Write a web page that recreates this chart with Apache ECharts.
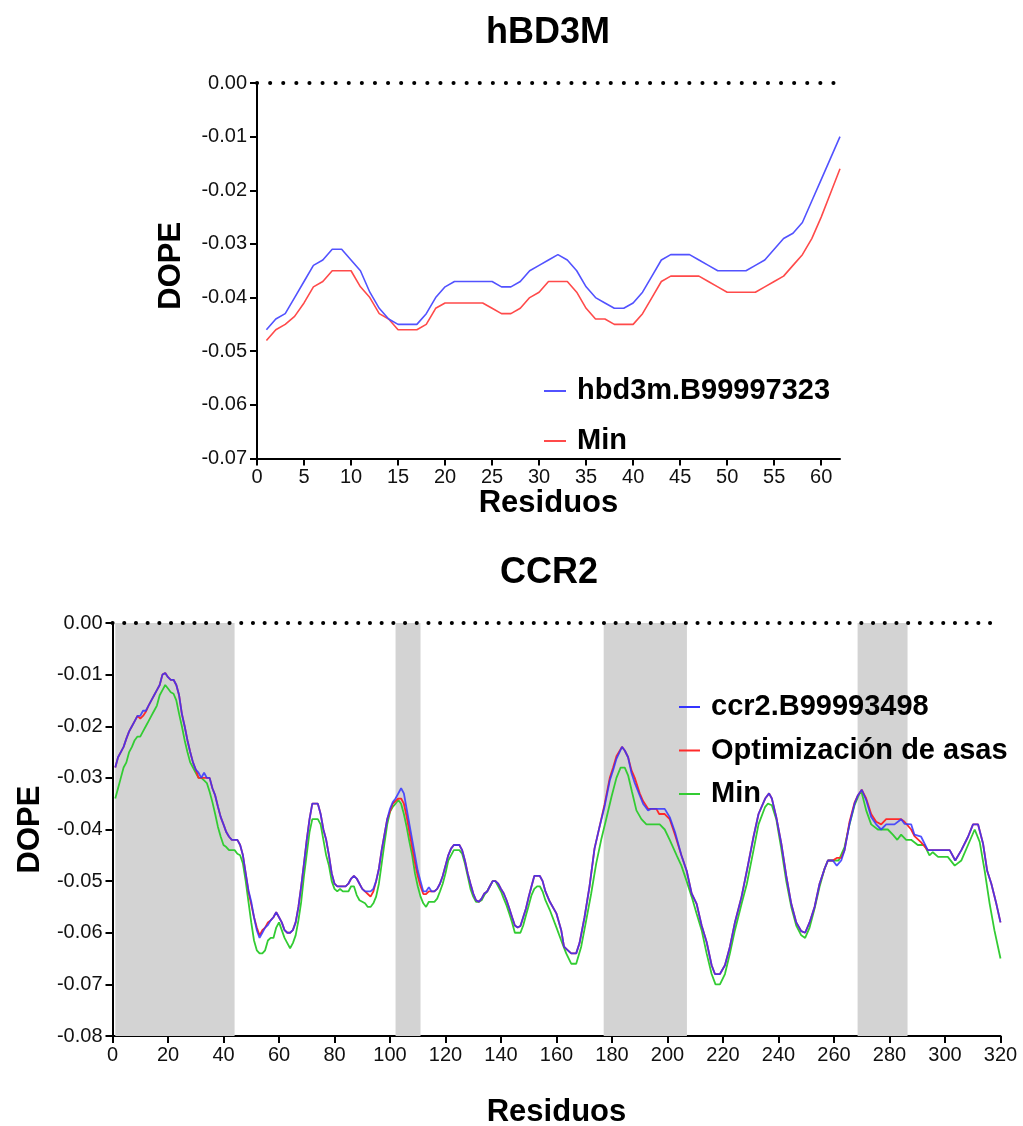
<!DOCTYPE html>
<html><head><meta charset="utf-8">
<script src="https://cdn.jsdelivr.net/npm/echarts@6/dist/echarts.min.js"></script>
<style>html,body{margin:0;padding:0;background:#fff}#c{width:1023px;height:1126px}</style>
</head><body><div id="c"></div>
<script>
// ---------- hBD3M ----------
const hbdResidues = [1,2,3,4,5,6,7,8,9,10,11,12,13,14,15,16,17,18,19,20,21,22,23,24,25,26,27,28,29,30,31,32,33,34,35,36,37,38,39,40,41,42,43,44,45,46,47,48,49,50,51,52,53,54,55,56,57,58,59,60,61,62];
const hbdModel = [-0.046,-0.044,-0.043,-0.040,-0.037,-0.034,-0.033,-0.031,-0.031,-0.033,-0.035,-0.039,-0.042,-0.044,-0.045,-0.045,-0.045,-0.043,-0.040,-0.038,-0.037,-0.037,-0.037,-0.037,-0.037,-0.038,-0.038,-0.037,-0.035,-0.034,-0.033,-0.032,-0.033,-0.035,-0.038,-0.040,-0.041,-0.042,-0.042,-0.041,-0.039,-0.036,-0.033,-0.032,-0.032,-0.032,-0.033,-0.034,-0.035,-0.035,-0.035,-0.035,-0.034,-0.033,-0.031,-0.029,-0.028,-0.026,-0.022,-0.018,-0.014,-0.010];
const hbdMin = [-0.048,-0.046,-0.045,-0.0435,-0.041,-0.038,-0.037,-0.035,-0.035,-0.035,-0.038,-0.040,-0.043,-0.044,-0.046,-0.046,-0.046,-0.045,-0.042,-0.041,-0.041,-0.041,-0.041,-0.041,-0.042,-0.043,-0.043,-0.042,-0.040,-0.039,-0.037,-0.037,-0.037,-0.039,-0.042,-0.044,-0.044,-0.045,-0.045,-0.045,-0.043,-0.040,-0.037,-0.036,-0.036,-0.036,-0.036,-0.037,-0.038,-0.039,-0.039,-0.039,-0.039,-0.038,-0.037,-0.036,-0.034,-0.032,-0.029,-0.025,-0.0205,-0.016];
const hbdXTicks = [0,5,10,15,20,25,30,35,40,45,50,55,60];
const hbdYTicks = [-0.07,-0.06,-0.05,-0.04,-0.03,-0.02,-0.01,0];
const hbdLabels = ['hbd3m.B99997323','Min'];

// ---------- CCR2 ----------
const ccr2Model = [[1,-0.028],[2,-0.026],[3,-0.025],[4,-0.024],[5,-0.0224],[6,-0.021],[7,-0.020],[8,-0.019],[9,-0.018],[10,-0.018],[11,-0.017],[12,-0.017],[13,-0.016],[14,-0.015],[15,-0.014],[16,-0.013],[17,-0.012],[18,-0.010],[19,-0.0097],[20,-0.0105],[21,-0.011],[22,-0.011],[23,-0.012],[24,-0.014],[25,-0.0176],[26,-0.020],[27,-0.0227],[28,-0.025],[29,-0.027],[30,-0.0284],[31,-0.029],[32,-0.030],[33,-0.029],[34,-0.030],[35,-0.030],[36,-0.032],[37,-0.0334],[38,-0.0356],[39,-0.0376],[40,-0.039],[41,-0.0405],[42,-0.0414],[43,-0.042],[44,-0.042],[45,-0.042],[46,-0.043],[47,-0.045],[48,-0.0485],[49,-0.0518],[50,-0.054],[51,-0.057],[52,-0.0595],[53,-0.061],[54,-0.060],[55,-0.059],[56,-0.0585],[57,-0.0576],[58,-0.057],[59,-0.056],[60,-0.057],[61,-0.058],[62,-0.0595],[63,-0.060],[64,-0.060],[65,-0.0595],[66,-0.058],[67,-0.055],[68,-0.051],[69,-0.0466],[70,-0.042],[71,-0.038],[72,-0.035],[73,-0.035],[74,-0.035],[75,-0.037],[76,-0.040],[77,-0.042],[78,-0.045],[79,-0.0485],[80,-0.0505],[81,-0.051],[82,-0.051],[83,-0.051],[84,-0.051],[85,-0.0505],[86,-0.0495],[87,-0.049],[88,-0.0495],[89,-0.0505],[90,-0.0515],[91,-0.052],[92,-0.052],[93,-0.052],[94,-0.0515],[95,-0.050],[96,-0.0476],[97,-0.044],[98,-0.041],[99,-0.038],[100,-0.036],[101,-0.0347],[102,-0.034],[103,-0.033],[104,-0.032],[105,-0.033],[106,-0.036],[107,-0.039],[108,-0.042],[109,-0.045],[110,-0.048],[111,-0.050],[112,-0.052],[113,-0.052],[114,-0.0512],[115,-0.052],[116,-0.052],[117,-0.0515],[118,-0.0505],[119,-0.049],[120,-0.047],[121,-0.045],[122,-0.0437],[123,-0.043],[124,-0.043],[125,-0.043],[126,-0.044],[127,-0.046],[128,-0.0485],[129,-0.0505],[130,-0.0524],[131,-0.0537],[132,-0.054],[133,-0.0534],[134,-0.0524],[135,-0.052],[136,-0.051],[137,-0.050],[138,-0.050],[139,-0.0505],[140,-0.0515],[141,-0.0524],[142,-0.0537],[143,-0.0553],[144,-0.057],[145,-0.0586],[146,-0.059],[147,-0.0587],[148,-0.057],[149,-0.0553],[150,-0.053],[151,-0.051],[152,-0.049],[153,-0.049],[154,-0.049],[155,-0.050],[156,-0.052],[157.6,-0.054],[160,-0.0563],[161.7,-0.0595],[162.7,-0.0627],[164.1,-0.0634],[165.3,-0.064],[167.1,-0.064],[168.3,-0.062],[170.1,-0.057],[171.9,-0.051],[173.7,-0.0437],[175.5,-0.0395],[177.3,-0.0356],[179.2,-0.0305],[180.4,-0.0285],[181.6,-0.0263],[183.6,-0.024],[184.6,-0.0247],[185.8,-0.026],[187,-0.029],[188.2,-0.031],[190,-0.0334],[191.2,-0.035],[193,-0.0363],[194,-0.036],[199,-0.036],[200.8,-0.0376],[202.7,-0.0405],[205,-0.045],[206.9,-0.048],[208.7,-0.0524],[210.5,-0.0544],[212.3,-0.0586],[214.1,-0.0618],[215.9,-0.0663],[217.1,-0.068],[218.9,-0.068],[220.7,-0.0663],[222.5,-0.0627],[224.3,-0.058],[226.7,-0.053],[228.6,-0.048],[231,-0.0414],[232.8,-0.037],[235.2,-0.034],[236.6,-0.033],[237.6,-0.034],[239.2,-0.0376],[241,-0.0427],[242.8,-0.049],[244.6,-0.0544],[246.4,-0.058],[248.2,-0.0597],[249.6,-0.060],[251.2,-0.058],[253,-0.055],[254.8,-0.0505],[256.6,-0.0476],[257.8,-0.046],[259.6,-0.046],[261,-0.047],[262.6,-0.046],[263.8,-0.044],[265.6,-0.0389],[267.4,-0.035],[268.6,-0.0334],[270,-0.0323],[271.6,-0.0343],[273.4,-0.0376],[275.2,-0.039],[277,-0.040],[278.8,-0.039],[281.8,-0.039],[284.2,-0.038],[285.4,-0.0389],[287.8,-0.039],[289,-0.041],[291.4,-0.0414],[293.8,-0.044],[301.7,-0.044],[303.7,-0.046],[305.9,-0.044],[308.3,-0.0414],[310.1,-0.039],[311.9,-0.039],[313.7,-0.0427],[315.2,-0.048],[316.7,-0.0505],[318.5,-0.0544],[320,-0.058]];
const ccr2Loop = [[1,-0.028],[2,-0.026],[3,-0.025],[4,-0.024],[5,-0.0224],[6,-0.021],[7,-0.020],[8,-0.019],[9,-0.018],[10,-0.0185],[11,-0.018],[12,-0.0172],[13,-0.016],[14,-0.015],[15,-0.014],[16,-0.013],[17,-0.012],[18,-0.010],[19,-0.0097],[20,-0.0105],[21,-0.011],[22,-0.011],[23,-0.012],[24,-0.014],[25,-0.0176],[26,-0.020],[27,-0.0227],[28,-0.025],[29,-0.027],[30,-0.0284],[31,-0.030],[32,-0.030],[33,-0.030],[34,-0.030],[35,-0.030],[36,-0.032],[37,-0.0334],[38,-0.0356],[39,-0.0376],[40,-0.039],[41,-0.0405],[42,-0.0414],[43,-0.042],[44,-0.042],[45,-0.042],[46,-0.043],[47,-0.045],[48,-0.0485],[49,-0.052],[50,-0.0545],[51,-0.057],[52,-0.059],[53,-0.0605],[54,-0.0595],[55,-0.059],[56,-0.058],[57,-0.0576],[58,-0.057],[59,-0.056],[60,-0.057],[61,-0.058],[62,-0.0595],[63,-0.060],[64,-0.060],[65,-0.0595],[66,-0.058],[67,-0.055],[68,-0.051],[69,-0.0466],[70,-0.042],[71,-0.038],[72,-0.035],[73,-0.035],[74,-0.035],[75,-0.037],[76,-0.040],[77,-0.042],[78,-0.045],[79,-0.0485],[80,-0.0505],[81,-0.051],[82,-0.051],[83,-0.051],[84,-0.051],[85,-0.0505],[86,-0.0495],[87,-0.049],[88,-0.0495],[89,-0.0505],[90,-0.0515],[91,-0.052],[92,-0.0525],[93,-0.053],[94,-0.052],[95,-0.050],[96,-0.0476],[97,-0.044],[98,-0.041],[99,-0.038],[100,-0.0365],[101,-0.035],[102,-0.0345],[103,-0.034],[104,-0.034],[105,-0.035],[106,-0.0375],[107,-0.0405],[108,-0.0435],[109,-0.0465],[110,-0.049],[111,-0.051],[112,-0.0525],[113,-0.0525],[114,-0.052],[115,-0.052],[116,-0.052],[117,-0.0515],[118,-0.0505],[119,-0.049],[120,-0.047],[121,-0.045],[122,-0.0437],[123,-0.043],[124,-0.043],[125,-0.043],[126,-0.044],[127,-0.046],[128,-0.0485],[129,-0.0505],[130,-0.0524],[131,-0.0537],[132,-0.054],[133,-0.0534],[134,-0.0524],[135,-0.052],[136,-0.051],[137,-0.050],[138,-0.050],[139,-0.0505],[140,-0.0515],[141,-0.0524],[142,-0.0537],[143,-0.0553],[144,-0.057],[145,-0.0586],[146,-0.059],[147,-0.0587],[148,-0.057],[149,-0.0553],[150,-0.053],[151,-0.051],[152,-0.049],[153,-0.049],[154,-0.049],[155,-0.050],[156,-0.052],[157.6,-0.054],[160,-0.0563],[161.7,-0.0595],[162.7,-0.0627],[164.1,-0.0634],[165.3,-0.064],[167.1,-0.064],[168.3,-0.062],[170.1,-0.057],[171.9,-0.051],[173.7,-0.0437],[175.5,-0.0395],[177.3,-0.0352],[179.2,-0.030],[180.4,-0.028],[181.6,-0.0258],[183.6,-0.024],[184.6,-0.0247],[185.8,-0.026],[187,-0.0285],[188.2,-0.030],[190,-0.033],[191.2,-0.0345],[193,-0.036],[196,-0.036],[197,-0.037],[199,-0.037],[200.8,-0.038],[202.7,-0.041],[205,-0.045],[206.9,-0.048],[208.7,-0.0524],[210.5,-0.0544],[212.3,-0.0586],[214.1,-0.0618],[215.9,-0.0663],[217.1,-0.068],[218.9,-0.068],[220.7,-0.0663],[222.5,-0.0627],[224.3,-0.058],[226.7,-0.053],[228.6,-0.048],[231,-0.0414],[232.8,-0.037],[235.2,-0.034],[236.6,-0.033],[237.6,-0.034],[239.2,-0.0376],[241,-0.0427],[242.8,-0.049],[244.6,-0.0544],[246.4,-0.058],[248.2,-0.0597],[249.6,-0.060],[251.2,-0.058],[253,-0.055],[254.8,-0.0505],[256.6,-0.0476],[257.8,-0.046],[259.6,-0.046],[261,-0.0455],[262.6,-0.0455],[263.8,-0.044],[265.6,-0.0385],[267.4,-0.0348],[268.6,-0.0334],[270,-0.0323],[271.6,-0.034],[273.4,-0.037],[275.2,-0.0385],[277,-0.039],[278.8,-0.038],[281.8,-0.038],[284.2,-0.038],[285.4,-0.0385],[287.8,-0.040],[289,-0.0413],[291.4,-0.0425],[293.8,-0.044],[301.7,-0.044],[303.7,-0.046],[305.9,-0.044],[308.3,-0.0414],[310.1,-0.039],[311.9,-0.039],[313.7,-0.0427],[315.2,-0.048],[316.7,-0.0505],[318.5,-0.0544],[320,-0.058]];
const ccr2Min = [[1,-0.034],[2,-0.032],[3,-0.030],[4,-0.028],[5,-0.027],[6,-0.025],[7,-0.024],[8,-0.0227],[9,-0.022],[10,-0.022],[11,-0.021],[12,-0.020],[13,-0.019],[14,-0.018],[15,-0.017],[16,-0.016],[17,-0.014],[18,-0.013],[19,-0.012],[20,-0.0127],[21,-0.0134],[22,-0.0137],[23,-0.015],[24,-0.0176],[25,-0.020],[26,-0.0227],[27,-0.025],[28,-0.027],[29,-0.028],[30,-0.029],[31,-0.030],[32,-0.030],[33,-0.0305],[34,-0.031],[35,-0.0327],[36,-0.0347],[37,-0.037],[38,-0.0395],[39,-0.0414],[40,-0.043],[41,-0.0434],[42,-0.044],[43,-0.044],[44,-0.044],[45,-0.0447],[46,-0.045],[47,-0.0466],[48,-0.050],[49,-0.054],[50,-0.058],[51,-0.0615],[52,-0.0634],[53,-0.064],[54,-0.064],[55,-0.0634],[56,-0.0615],[57,-0.061],[58,-0.061],[59,-0.059],[60,-0.058],[61,-0.0595],[62,-0.061],[63,-0.062],[64,-0.063],[65,-0.062],[66,-0.0605],[67,-0.0576],[68,-0.054],[69,-0.049],[70,-0.0447],[71,-0.0405],[72,-0.038],[73,-0.038],[74,-0.038],[75,-0.039],[76,-0.042],[77,-0.045],[78,-0.047],[79,-0.050],[80,-0.0515],[81,-0.052],[82,-0.0515],[83,-0.052],[84,-0.052],[85,-0.052],[86,-0.051],[87,-0.051],[88,-0.0527],[89,-0.0537],[90,-0.054],[91,-0.0543],[92,-0.055],[93,-0.055],[94,-0.0543],[95,-0.053],[96,-0.0505],[97,-0.0466],[98,-0.0427],[99,-0.039],[100,-0.0366],[101,-0.0356],[102,-0.035],[103,-0.0343],[104,-0.035],[105,-0.037],[106,-0.0395],[107,-0.0424],[108,-0.045],[109,-0.0485],[110,-0.051],[111,-0.053],[112,-0.0543],[113,-0.055],[114,-0.054],[115,-0.054],[116,-0.054],[117,-0.0534],[118,-0.052],[119,-0.0505],[120,-0.0485],[121,-0.046],[122,-0.045],[123,-0.044],[124,-0.044],[125,-0.044],[126,-0.0447],[127,-0.0466],[128,-0.049],[129,-0.0515],[130,-0.053],[131,-0.054],[132,-0.054],[133,-0.0537],[134,-0.0527],[135,-0.052],[136,-0.051],[137,-0.050],[138,-0.050],[139,-0.051],[140,-0.052],[141,-0.0534],[142,-0.0547],[143,-0.0563],[144,-0.058],[145,-0.060],[146,-0.060],[147,-0.060],[148,-0.0586],[149,-0.0566],[150,-0.0547],[151,-0.0527],[152,-0.0515],[153,-0.051],[154,-0.051],[155,-0.052],[156,-0.0537],[157.6,-0.0556],[160,-0.059],[161.7,-0.0615],[163.5,-0.064],[165.3,-0.066],[167.1,-0.066],[168.9,-0.0627],[170.7,-0.0576],[172.5,-0.0524],[174.3,-0.0466],[176.1,-0.042],[177.9,-0.038],[179.8,-0.0337],[181.6,-0.030],[183.1,-0.028],[184.6,-0.028],[185.8,-0.0295],[187.2,-0.0327],[188.8,-0.0363],[190.6,-0.038],[192.4,-0.039],[197.2,-0.039],[199,-0.040],[200.8,-0.042],[203.3,-0.045],[205,-0.047],[206.9,-0.050],[208.7,-0.053],[210.5,-0.0563],[212.3,-0.0595],[214.1,-0.064],[215.9,-0.068],[217.3,-0.070],[218.9,-0.070],[220.7,-0.068],[222.5,-0.064],[224.3,-0.0595],[226.7,-0.0544],[228.6,-0.0505],[231,-0.044],[232.8,-0.039],[235.2,-0.0356],[236.2,-0.035],[237.6,-0.0353],[239.2,-0.038],[241,-0.0437],[242.8,-0.050],[244.6,-0.055],[246.4,-0.0586],[248.2,-0.0605],[249.6,-0.061],[251.2,-0.059],[253,-0.0553],[254.8,-0.0511],[256.6,-0.0476],[257.8,-0.046],[261.7,-0.046],[263.8,-0.0434],[265.6,-0.039],[267.4,-0.0353],[269.2,-0.033],[270,-0.0329],[271.6,-0.0363],[273.4,-0.039],[275.8,-0.040],[279.4,-0.040],[281.2,-0.041],[282.8,-0.042],[284.2,-0.041],[286,-0.042],[287.8,-0.042],[290.2,-0.043],[292.6,-0.043],[294.4,-0.045],[295.6,-0.0444],[297.5,-0.0453],[301,-0.0453],[303.5,-0.047],[305.9,-0.046],[308.3,-0.043],[310.7,-0.040],[312.5,-0.0424],[314.3,-0.048],[316.1,-0.0544],[317.8,-0.0595],[320,-0.065]];
const ccr2Bands = [[1,44],[102,111],[177,207],[268.5,286.5]];
const ccr2XTicks = [0,20,40,60,80,100,120,140,160,180,200,220,240,260,280,300,320];
const ccr2YTicks = [-0.08,-0.07,-0.06,-0.05,-0.04,-0.03,-0.02,-0.01,0];
const ccr2Labels = ['ccr2.B99993498','Optimización de asas','Min'];

// internal unique series ids -> shown legend labels
const hbdIds = ['hbd_model','hbd_min'];
const ccr2Ids = ['ccr2_model','ccr2_loop','ccr2_min'];
const labelOf = {};
hbdIds.forEach((k,i)=>labelOf[k]=hbdLabels[i]);
ccr2Ids.forEach((k,i)=>labelOf[k]=ccr2Labels[i]);

const FONT = '"Liberation Sans", Arial, sans-serif';
const axisLineStyle = {show:true, onZero:false, lineStyle:{color:'#000', width:2}};
const tickStyle = {show:true, length:7, lineStyle:{color:'#000', width:2}};
const lbl = {color:'#111', fontSize:20, fontFamily:FONT};
const nameStyle = {color:'#000', fontSize:31, fontWeight:'bold', fontFamily:FONT};
const zeroLine = (gap) => ({
  silent:true, symbol:'none', label:{show:false},
  lineStyle:{color:'#000', width:4, type:[0.1, gap], cap:'round'},
  data:[{yAxis:0}], animation:false
});
const legendText = {fontSize:29, fontWeight:'bold', fontFamily:FONT, color:'#000', lineHeight:30, padding:[0,0,0,6]};

const option = {
  animation:false,
  backgroundColor:'#fff',
  title:[
    {text:'hBD3M', left:543, top:10, textAlign:'center', textStyle:{fontSize:36, fontWeight:'bold', fontFamily:FONT, color:'#000'}},
    {text:'CCR2', left:544, top:550, textAlign:'center', textStyle:{fontSize:36, fontWeight:'bold', fontFamily:FONT, color:'#000'}}
  ],
  legend:[
    {data:hbdIds, formatter:n=>labelOf[n], orient:'vertical', left:544, top:376, padding:0, itemWidth:22, itemHeight:2, itemGap:20, icon:'rect', textStyle:legendText},
    {data:ccr2Ids, formatter:n=>labelOf[n], orient:'vertical', left:679, top:692, padding:0, itemWidth:21, itemHeight:2, itemGap:13.5, icon:'rect', textStyle:legendText}
  ],
  grid:[
    {left:257, top:83, width:583, height:375.5, outerBoundsMode:'none'},
    {left:112.5, top:623, width:888, height:413, outerBoundsMode:'none'}
  ],
  xAxis:[
    {type:'value', gridIndex:0, min:0, max:62, splitLine:{show:false},
     axisLine:axisLineStyle, axisTick:Object.assign({customValues:hbdXTicks}, tickStyle),
     axisLabel:Object.assign({customValues:hbdXTicks, margin:9}, lbl),
     name:'Residuos', nameLocation:'middle', nameGap:29, nameTextStyle:nameStyle},
    {type:'value', gridIndex:1, min:0, max:320, splitLine:{show:false},
     axisLine:axisLineStyle, axisTick:Object.assign({customValues:ccr2XTicks}, tickStyle),
     axisLabel:Object.assign({customValues:ccr2XTicks, margin:9}, lbl),
     name:'Residuos', nameLocation:'middle', nameGap:61, nameTextStyle:nameStyle}
  ],
  yAxis:[
    {type:'value', gridIndex:0, min:-0.07, max:0, splitLine:{show:false},
     axisLine:axisLineStyle, axisTick:Object.assign({customValues:hbdYTicks}, tickStyle),
     axisLabel:Object.assign({customValues:hbdYTicks, margin:10, formatter:v=>Number(v).toFixed(2)}, lbl),
     name:'DOPE', nameLocation:'middle', nameGap:70, nameRotate:90, nameTextStyle:Object.assign({padding:[0,0,0,10]}, nameStyle)},
    {type:'value', gridIndex:1, min:-0.08, max:0, splitLine:{show:false},
     axisLine:axisLineStyle, axisTick:Object.assign({customValues:ccr2YTicks}, tickStyle),
     axisLabel:Object.assign({customValues:ccr2YTicks, margin:10, formatter:v=>Number(v).toFixed(2)}, lbl),
     name:'DOPE', nameLocation:'middle', nameGap:66, nameRotate:90, nameTextStyle:nameStyle}
  ],
  series:[
    {name:'bands', type:'line', xAxisIndex:1, yAxisIndex:1, data:[], z:1,
     markArea:{silent:true, itemStyle:{color:'#d3d3d3'}, data:ccr2Bands.map(b=>[{xAxis:b[0]},{xAxis:b[1]}])}},
    {name:hbdIds[1], type:'line', xAxisIndex:0, yAxisIndex:0, showSymbol:false, symbol:'none',
     data:hbdResidues.map((r,i)=>[r, hbdMin[i]]), color:'#ff4a4a', lineStyle:{width:1.6, color:'#ff4a4a'}},
    {name:hbdIds[0], type:'line', xAxisIndex:0, yAxisIndex:0, showSymbol:false, symbol:'none',
     data:hbdResidues.map((r,i)=>[r, hbdModel[i]]), color:'#5252ff', lineStyle:{width:1.6, color:'#5252ff'},
     markLine:zeroLine(13)},
    {name:ccr2Ids[2], type:'line', xAxisIndex:1, yAxisIndex:1, showSymbol:false, symbol:'none',
     data:ccr2Min, color:'#33cc33', lineStyle:{width:1.8, color:'#33cc33'}},
    {name:ccr2Ids[1], type:'line', xAxisIndex:1, yAxisIndex:1, showSymbol:false, symbol:'none',
     data:ccr2Loop, color:'#ff2a2a', lineStyle:{width:1.8, color:'#ff2a2a'}},
    {name:ccr2Ids[0], type:'line', xAxisIndex:1, yAxisIndex:1, showSymbol:false, symbol:'none',
     data:ccr2Model, color:'#3434ff', lineStyle:{width:1.8, color:'#3434ff', opacity:0.85},
     markLine:zeroLine(11.6)}
  ]
};
const chart = echarts.init(document.getElementById('c'), null, {renderer:'canvas'});
chart.setOption(option);
</script></body></html>
